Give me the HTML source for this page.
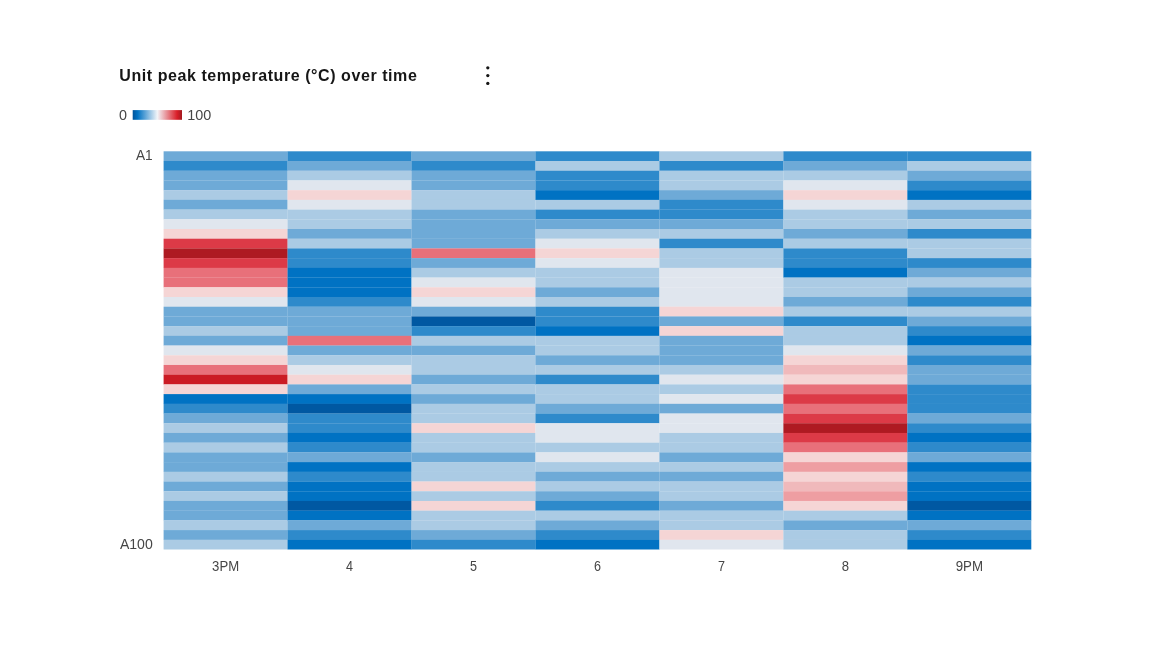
<!DOCTYPE html>
<html><head><meta charset="utf-8"><title>Unit peak temperature</title>
<style>
html,body{margin:0;padding:0;background:#fff;}
body{width:1152px;height:648px;overflow:hidden;font-family:"Liberation Sans",sans-serif;}
svg{display:block;}
.title{font:bold 16px "Liberation Sans",sans-serif;fill:#161616;}
.ax text,.lg text{font:14.4px "Liberation Sans",sans-serif;fill:#464646;}
</style></head><body>
<svg width="1152" height="648" viewBox="0 0 1152 648">
<defs><linearGradient id="lg" x1="0" x2="1" y1="0" y2="0">
<stop offset="0" stop-color="#00539a"/><stop offset="0.1" stop-color="#0072c3"/><stop offset="0.5" stop-color="#f2f4f8"/><stop offset="0.9" stop-color="#da1e28"/><stop offset="1" stop-color="#a2191f"/>
</linearGradient></defs>
<text class="title" x="119.3" y="80.5" textLength="297.5" lengthAdjust="spacing">Unit peak temperature (°C) over time</text>
<g fill="#161616"><circle cx="487.8" cy="67.8" r="1.65"/><circle cx="487.8" cy="75.6" r="1.65"/><circle cx="487.8" cy="83.4" r="1.65"/></g>
<g class="lg"><text x="119.00" y="120.3" textLength="8.00" lengthAdjust="spacingAndGlyphs">0</text><rect x="132.7" y="110.1" width="49.3" height="9.7" fill="url(#lg)"/><text x="187.30" y="120.3" textLength="24.00" lengthAdjust="spacingAndGlyphs">100</text></g>
<g shape-rendering="auto"><rect x="163.60" y="151.30" width="124.11" height="9.86" fill="#6eaad7"/><rect x="163.60" y="161.01" width="124.11" height="9.86" fill="#2e8acb"/><rect x="163.60" y="170.72" width="124.11" height="9.86" fill="#6eaad7"/><rect x="163.60" y="180.44" width="124.11" height="9.86" fill="#6eaad7"/><rect x="163.60" y="190.15" width="124.11" height="9.86" fill="#abcbe4"/><rect x="163.60" y="199.86" width="124.11" height="9.86" fill="#6eaad7"/><rect x="163.60" y="209.57" width="124.11" height="9.86" fill="#abcbe4"/><rect x="163.60" y="219.29" width="124.11" height="9.86" fill="#e0e6ee"/><rect x="163.60" y="229.00" width="124.11" height="9.86" fill="#f5d5d5"/><rect x="163.60" y="238.71" width="124.11" height="9.86" fill="#dc3a47"/><rect x="163.60" y="248.42" width="124.11" height="9.86" fill="#ae1a22"/><rect x="163.60" y="258.13" width="124.11" height="9.86" fill="#dc3a47"/><rect x="163.60" y="267.85" width="124.11" height="9.86" fill="#e8707a"/><rect x="163.60" y="277.56" width="124.11" height="9.86" fill="#e8707a"/><rect x="163.60" y="287.27" width="124.11" height="9.86" fill="#f5d5d5"/><rect x="163.60" y="296.98" width="124.11" height="9.86" fill="#e0e6ee"/><rect x="163.60" y="306.70" width="124.11" height="9.86" fill="#6eaad7"/><rect x="163.60" y="316.41" width="124.11" height="9.86" fill="#6eaad7"/><rect x="163.60" y="326.12" width="124.11" height="9.86" fill="#abcbe4"/><rect x="163.60" y="335.83" width="124.11" height="9.86" fill="#6eaad7"/><rect x="163.60" y="345.54" width="124.11" height="9.86" fill="#e0e6ee"/><rect x="163.60" y="355.26" width="124.11" height="9.86" fill="#f5d5d5"/><rect x="163.60" y="364.97" width="124.11" height="9.86" fill="#e8707a"/><rect x="163.60" y="374.68" width="124.11" height="9.86" fill="#cb1b24"/><rect x="163.60" y="384.39" width="124.11" height="9.86" fill="#f5d5d5"/><rect x="163.60" y="394.10" width="124.11" height="9.86" fill="#0072c3"/><rect x="163.60" y="403.82" width="124.11" height="9.86" fill="#2e8acb"/><rect x="163.60" y="413.53" width="124.11" height="9.86" fill="#6eaad7"/><rect x="163.60" y="423.24" width="124.11" height="9.86" fill="#abcbe4"/><rect x="163.60" y="432.95" width="124.11" height="9.86" fill="#6eaad7"/><rect x="163.60" y="442.67" width="124.11" height="9.86" fill="#abcbe4"/><rect x="163.60" y="452.38" width="124.11" height="9.86" fill="#6eaad7"/><rect x="163.60" y="462.09" width="124.11" height="9.86" fill="#6eaad7"/><rect x="163.60" y="471.80" width="124.11" height="9.86" fill="#abcbe4"/><rect x="163.60" y="481.51" width="124.11" height="9.86" fill="#6eaad7"/><rect x="163.60" y="491.23" width="124.11" height="9.86" fill="#abcbe4"/><rect x="163.60" y="500.94" width="124.11" height="9.86" fill="#6eaad7"/><rect x="163.60" y="510.65" width="124.11" height="9.86" fill="#6eaad7"/><rect x="163.60" y="520.36" width="124.11" height="9.86" fill="#abcbe4"/><rect x="163.60" y="530.08" width="124.11" height="9.86" fill="#6eaad7"/><rect x="163.60" y="539.79" width="124.11" height="9.71" fill="#abcbe4"/><rect x="287.56" y="151.30" width="124.11" height="9.86" fill="#2e8acb"/><rect x="287.56" y="161.01" width="124.11" height="9.86" fill="#6eaad7"/><rect x="287.56" y="170.72" width="124.11" height="9.86" fill="#abcbe4"/><rect x="287.56" y="180.44" width="124.11" height="9.86" fill="#e0e6ee"/><rect x="287.56" y="190.15" width="124.11" height="9.86" fill="#f5d5d5"/><rect x="287.56" y="199.86" width="124.11" height="9.86" fill="#e0e6ee"/><rect x="287.56" y="209.57" width="124.11" height="9.86" fill="#abcbe4"/><rect x="287.56" y="219.29" width="124.11" height="9.86" fill="#abcbe4"/><rect x="287.56" y="229.00" width="124.11" height="9.86" fill="#6eaad7"/><rect x="287.56" y="238.71" width="124.11" height="9.86" fill="#abcbe4"/><rect x="287.56" y="248.42" width="124.11" height="9.86" fill="#2e8acb"/><rect x="287.56" y="258.13" width="124.11" height="9.86" fill="#2e8acb"/><rect x="287.56" y="267.85" width="124.11" height="9.86" fill="#0072c3"/><rect x="287.56" y="277.56" width="124.11" height="9.86" fill="#0072c3"/><rect x="287.56" y="287.27" width="124.11" height="9.86" fill="#0072c3"/><rect x="287.56" y="296.98" width="124.11" height="9.86" fill="#2e8acb"/><rect x="287.56" y="306.70" width="124.11" height="9.86" fill="#6eaad7"/><rect x="287.56" y="316.41" width="124.11" height="9.86" fill="#6eaad7"/><rect x="287.56" y="326.12" width="124.11" height="9.86" fill="#6eaad7"/><rect x="287.56" y="335.83" width="124.11" height="9.86" fill="#e8707a"/><rect x="287.56" y="345.54" width="124.11" height="9.86" fill="#6eaad7"/><rect x="287.56" y="355.26" width="124.11" height="9.86" fill="#abcbe4"/><rect x="287.56" y="364.97" width="124.11" height="9.86" fill="#e0e6ee"/><rect x="287.56" y="374.68" width="124.11" height="9.86" fill="#f5d5d5"/><rect x="287.56" y="384.39" width="124.11" height="9.86" fill="#6eaad7"/><rect x="287.56" y="394.10" width="124.11" height="9.86" fill="#0072c3"/><rect x="287.56" y="403.82" width="124.11" height="9.86" fill="#0058a2"/><rect x="287.56" y="413.53" width="124.11" height="9.86" fill="#2e8acb"/><rect x="287.56" y="423.24" width="124.11" height="9.86" fill="#2e8acb"/><rect x="287.56" y="432.95" width="124.11" height="9.86" fill="#0072c3"/><rect x="287.56" y="442.67" width="124.11" height="9.86" fill="#2e8acb"/><rect x="287.56" y="452.38" width="124.11" height="9.86" fill="#6eaad7"/><rect x="287.56" y="462.09" width="124.11" height="9.86" fill="#0072c3"/><rect x="287.56" y="471.80" width="124.11" height="9.86" fill="#2e8acb"/><rect x="287.56" y="481.51" width="124.11" height="9.86" fill="#0072c3"/><rect x="287.56" y="491.23" width="124.11" height="9.86" fill="#0072c3"/><rect x="287.56" y="500.94" width="124.11" height="9.86" fill="#0058a2"/><rect x="287.56" y="510.65" width="124.11" height="9.86" fill="#0072c3"/><rect x="287.56" y="520.36" width="124.11" height="9.86" fill="#6eaad7"/><rect x="287.56" y="530.08" width="124.11" height="9.86" fill="#2e8acb"/><rect x="287.56" y="539.79" width="124.11" height="9.71" fill="#0072c3"/><rect x="411.51" y="151.30" width="124.11" height="9.86" fill="#6eaad7"/><rect x="411.51" y="161.01" width="124.11" height="9.86" fill="#2e8acb"/><rect x="411.51" y="170.72" width="124.11" height="9.86" fill="#6eaad7"/><rect x="411.51" y="180.44" width="124.11" height="9.86" fill="#6eaad7"/><rect x="411.51" y="190.15" width="124.11" height="9.86" fill="#abcbe4"/><rect x="411.51" y="199.86" width="124.11" height="9.86" fill="#abcbe4"/><rect x="411.51" y="209.57" width="124.11" height="9.86" fill="#6eaad7"/><rect x="411.51" y="219.29" width="124.11" height="9.86" fill="#6eaad7"/><rect x="411.51" y="229.00" width="124.11" height="9.86" fill="#6eaad7"/><rect x="411.51" y="238.71" width="124.11" height="9.86" fill="#6eaad7"/><rect x="411.51" y="248.42" width="124.11" height="9.86" fill="#e8707a"/><rect x="411.51" y="258.13" width="124.11" height="9.86" fill="#6eaad7"/><rect x="411.51" y="267.85" width="124.11" height="9.86" fill="#abcbe4"/><rect x="411.51" y="277.56" width="124.11" height="9.86" fill="#e0e6ee"/><rect x="411.51" y="287.27" width="124.11" height="9.86" fill="#f5d5d5"/><rect x="411.51" y="296.98" width="124.11" height="9.86" fill="#e0e6ee"/><rect x="411.51" y="306.70" width="124.11" height="9.86" fill="#6eaad7"/><rect x="411.51" y="316.41" width="124.11" height="9.86" fill="#0058a2"/><rect x="411.51" y="326.12" width="124.11" height="9.86" fill="#2e8acb"/><rect x="411.51" y="335.83" width="124.11" height="9.86" fill="#abcbe4"/><rect x="411.51" y="345.54" width="124.11" height="9.86" fill="#6eaad7"/><rect x="411.51" y="355.26" width="124.11" height="9.86" fill="#abcbe4"/><rect x="411.51" y="364.97" width="124.11" height="9.86" fill="#abcbe4"/><rect x="411.51" y="374.68" width="124.11" height="9.86" fill="#6eaad7"/><rect x="411.51" y="384.39" width="124.11" height="9.86" fill="#abcbe4"/><rect x="411.51" y="394.10" width="124.11" height="9.86" fill="#6eaad7"/><rect x="411.51" y="403.82" width="124.11" height="9.86" fill="#abcbe4"/><rect x="411.51" y="413.53" width="124.11" height="9.86" fill="#abcbe4"/><rect x="411.51" y="423.24" width="124.11" height="9.86" fill="#f5d5d5"/><rect x="411.51" y="432.95" width="124.11" height="9.86" fill="#abcbe4"/><rect x="411.51" y="442.67" width="124.11" height="9.86" fill="#abcbe4"/><rect x="411.51" y="452.38" width="124.11" height="9.86" fill="#6eaad7"/><rect x="411.51" y="462.09" width="124.11" height="9.86" fill="#abcbe4"/><rect x="411.51" y="471.80" width="124.11" height="9.86" fill="#abcbe4"/><rect x="411.51" y="481.51" width="124.11" height="9.86" fill="#f5d5d5"/><rect x="411.51" y="491.23" width="124.11" height="9.86" fill="#abcbe4"/><rect x="411.51" y="500.94" width="124.11" height="9.86" fill="#f5d5d5"/><rect x="411.51" y="510.65" width="124.11" height="9.86" fill="#abcbe4"/><rect x="411.51" y="520.36" width="124.11" height="9.86" fill="#abcbe4"/><rect x="411.51" y="530.08" width="124.11" height="9.86" fill="#6eaad7"/><rect x="411.51" y="539.79" width="124.11" height="9.71" fill="#2e8acb"/><rect x="535.47" y="151.30" width="124.11" height="9.86" fill="#2e8acb"/><rect x="535.47" y="161.01" width="124.11" height="9.86" fill="#abcbe4"/><rect x="535.47" y="170.72" width="124.11" height="9.86" fill="#2e8acb"/><rect x="535.47" y="180.44" width="124.11" height="9.86" fill="#2e8acb"/><rect x="535.47" y="190.15" width="124.11" height="9.86" fill="#0072c3"/><rect x="535.47" y="199.86" width="124.11" height="9.86" fill="#abcbe4"/><rect x="535.47" y="209.57" width="124.11" height="9.86" fill="#2e8acb"/><rect x="535.47" y="219.29" width="124.11" height="9.86" fill="#6eaad7"/><rect x="535.47" y="229.00" width="124.11" height="9.86" fill="#abcbe4"/><rect x="535.47" y="238.71" width="124.11" height="9.86" fill="#e0e6ee"/><rect x="535.47" y="248.42" width="124.11" height="9.86" fill="#f5d5d5"/><rect x="535.47" y="258.13" width="124.11" height="9.86" fill="#e0e6ee"/><rect x="535.47" y="267.85" width="124.11" height="9.86" fill="#abcbe4"/><rect x="535.47" y="277.56" width="124.11" height="9.86" fill="#abcbe4"/><rect x="535.47" y="287.27" width="124.11" height="9.86" fill="#6eaad7"/><rect x="535.47" y="296.98" width="124.11" height="9.86" fill="#abcbe4"/><rect x="535.47" y="306.70" width="124.11" height="9.86" fill="#2e8acb"/><rect x="535.47" y="316.41" width="124.11" height="9.86" fill="#2e8acb"/><rect x="535.47" y="326.12" width="124.11" height="9.86" fill="#0072c3"/><rect x="535.47" y="335.83" width="124.11" height="9.86" fill="#abcbe4"/><rect x="535.47" y="345.54" width="124.11" height="9.86" fill="#abcbe4"/><rect x="535.47" y="355.26" width="124.11" height="9.86" fill="#6eaad7"/><rect x="535.47" y="364.97" width="124.11" height="9.86" fill="#abcbe4"/><rect x="535.47" y="374.68" width="124.11" height="9.86" fill="#2e8acb"/><rect x="535.47" y="384.39" width="124.11" height="9.86" fill="#abcbe4"/><rect x="535.47" y="394.10" width="124.11" height="9.86" fill="#abcbe4"/><rect x="535.47" y="403.82" width="124.11" height="9.86" fill="#6eaad7"/><rect x="535.47" y="413.53" width="124.11" height="9.86" fill="#2e8acb"/><rect x="535.47" y="423.24" width="124.11" height="9.86" fill="#e0e6ee"/><rect x="535.47" y="432.95" width="124.11" height="9.86" fill="#e0e6ee"/><rect x="535.47" y="442.67" width="124.11" height="9.86" fill="#abcbe4"/><rect x="535.47" y="452.38" width="124.11" height="9.86" fill="#e0e6ee"/><rect x="535.47" y="462.09" width="124.11" height="9.86" fill="#abcbe4"/><rect x="535.47" y="471.80" width="124.11" height="9.86" fill="#6eaad7"/><rect x="535.47" y="481.51" width="124.11" height="9.86" fill="#abcbe4"/><rect x="535.47" y="491.23" width="124.11" height="9.86" fill="#6eaad7"/><rect x="535.47" y="500.94" width="124.11" height="9.86" fill="#2e8acb"/><rect x="535.47" y="510.65" width="124.11" height="9.86" fill="#abcbe4"/><rect x="535.47" y="520.36" width="124.11" height="9.86" fill="#6eaad7"/><rect x="535.47" y="530.08" width="124.11" height="9.86" fill="#2e8acb"/><rect x="535.47" y="539.79" width="124.11" height="9.71" fill="#0072c3"/><rect x="659.43" y="151.30" width="124.11" height="9.86" fill="#abcbe4"/><rect x="659.43" y="161.01" width="124.11" height="9.86" fill="#2e8acb"/><rect x="659.43" y="170.72" width="124.11" height="9.86" fill="#abcbe4"/><rect x="659.43" y="180.44" width="124.11" height="9.86" fill="#abcbe4"/><rect x="659.43" y="190.15" width="124.11" height="9.86" fill="#6eaad7"/><rect x="659.43" y="199.86" width="124.11" height="9.86" fill="#2e8acb"/><rect x="659.43" y="209.57" width="124.11" height="9.86" fill="#2e8acb"/><rect x="659.43" y="219.29" width="124.11" height="9.86" fill="#6eaad7"/><rect x="659.43" y="229.00" width="124.11" height="9.86" fill="#abcbe4"/><rect x="659.43" y="238.71" width="124.11" height="9.86" fill="#2e8acb"/><rect x="659.43" y="248.42" width="124.11" height="9.86" fill="#abcbe4"/><rect x="659.43" y="258.13" width="124.11" height="9.86" fill="#abcbe4"/><rect x="659.43" y="267.85" width="124.11" height="9.86" fill="#e0e6ee"/><rect x="659.43" y="277.56" width="124.11" height="9.86" fill="#e0e6ee"/><rect x="659.43" y="287.27" width="124.11" height="9.86" fill="#e0e6ee"/><rect x="659.43" y="296.98" width="124.11" height="9.86" fill="#e0e6ee"/><rect x="659.43" y="306.70" width="124.11" height="9.86" fill="#f5d5d5"/><rect x="659.43" y="316.41" width="124.11" height="9.86" fill="#6eaad7"/><rect x="659.43" y="326.12" width="124.11" height="9.86" fill="#f5d5d5"/><rect x="659.43" y="335.83" width="124.11" height="9.86" fill="#6eaad7"/><rect x="659.43" y="345.54" width="124.11" height="9.86" fill="#6eaad7"/><rect x="659.43" y="355.26" width="124.11" height="9.86" fill="#6eaad7"/><rect x="659.43" y="364.97" width="124.11" height="9.86" fill="#abcbe4"/><rect x="659.43" y="374.68" width="124.11" height="9.86" fill="#e0e6ee"/><rect x="659.43" y="384.39" width="124.11" height="9.86" fill="#abcbe4"/><rect x="659.43" y="394.10" width="124.11" height="9.86" fill="#e0e6ee"/><rect x="659.43" y="403.82" width="124.11" height="9.86" fill="#6eaad7"/><rect x="659.43" y="413.53" width="124.11" height="9.86" fill="#e0e6ee"/><rect x="659.43" y="423.24" width="124.11" height="9.86" fill="#e0e6ee"/><rect x="659.43" y="432.95" width="124.11" height="9.86" fill="#abcbe4"/><rect x="659.43" y="442.67" width="124.11" height="9.86" fill="#abcbe4"/><rect x="659.43" y="452.38" width="124.11" height="9.86" fill="#6eaad7"/><rect x="659.43" y="462.09" width="124.11" height="9.86" fill="#abcbe4"/><rect x="659.43" y="471.80" width="124.11" height="9.86" fill="#6eaad7"/><rect x="659.43" y="481.51" width="124.11" height="9.86" fill="#abcbe4"/><rect x="659.43" y="491.23" width="124.11" height="9.86" fill="#abcbe4"/><rect x="659.43" y="500.94" width="124.11" height="9.86" fill="#6eaad7"/><rect x="659.43" y="510.65" width="124.11" height="9.86" fill="#abcbe4"/><rect x="659.43" y="520.36" width="124.11" height="9.86" fill="#abcbe4"/><rect x="659.43" y="530.08" width="124.11" height="9.86" fill="#f5d5d5"/><rect x="659.43" y="539.79" width="124.11" height="9.71" fill="#e0e6ee"/><rect x="783.39" y="151.30" width="124.11" height="9.86" fill="#2e8acb"/><rect x="783.39" y="161.01" width="124.11" height="9.86" fill="#6eaad7"/><rect x="783.39" y="170.72" width="124.11" height="9.86" fill="#abcbe4"/><rect x="783.39" y="180.44" width="124.11" height="9.86" fill="#e0e6ee"/><rect x="783.39" y="190.15" width="124.11" height="9.86" fill="#f5d5d5"/><rect x="783.39" y="199.86" width="124.11" height="9.86" fill="#e0e6ee"/><rect x="783.39" y="209.57" width="124.11" height="9.86" fill="#abcbe4"/><rect x="783.39" y="219.29" width="124.11" height="9.86" fill="#abcbe4"/><rect x="783.39" y="229.00" width="124.11" height="9.86" fill="#6eaad7"/><rect x="783.39" y="238.71" width="124.11" height="9.86" fill="#abcbe4"/><rect x="783.39" y="248.42" width="124.11" height="9.86" fill="#2e8acb"/><rect x="783.39" y="258.13" width="124.11" height="9.86" fill="#2e8acb"/><rect x="783.39" y="267.85" width="124.11" height="9.86" fill="#0072c3"/><rect x="783.39" y="277.56" width="124.11" height="9.86" fill="#abcbe4"/><rect x="783.39" y="287.27" width="124.11" height="9.86" fill="#abcbe4"/><rect x="783.39" y="296.98" width="124.11" height="9.86" fill="#6eaad7"/><rect x="783.39" y="306.70" width="124.11" height="9.86" fill="#abcbe4"/><rect x="783.39" y="316.41" width="124.11" height="9.86" fill="#2e8acb"/><rect x="783.39" y="326.12" width="124.11" height="9.86" fill="#abcbe4"/><rect x="783.39" y="335.83" width="124.11" height="9.86" fill="#abcbe4"/><rect x="783.39" y="345.54" width="124.11" height="9.86" fill="#e0e6ee"/><rect x="783.39" y="355.26" width="124.11" height="9.86" fill="#f5d5d5"/><rect x="783.39" y="364.97" width="124.11" height="9.86" fill="#f0b9bb"/><rect x="783.39" y="374.68" width="124.11" height="9.86" fill="#f5d5d5"/><rect x="783.39" y="384.39" width="124.11" height="9.86" fill="#e8707a"/><rect x="783.39" y="394.10" width="124.11" height="9.86" fill="#dc3a47"/><rect x="783.39" y="403.82" width="124.11" height="9.86" fill="#e8707a"/><rect x="783.39" y="413.53" width="124.11" height="9.86" fill="#dc3a47"/><rect x="783.39" y="423.24" width="124.11" height="9.86" fill="#ae1a22"/><rect x="783.39" y="432.95" width="124.11" height="9.86" fill="#dc3a47"/><rect x="783.39" y="442.67" width="124.11" height="9.86" fill="#e8707a"/><rect x="783.39" y="452.38" width="124.11" height="9.86" fill="#f5d5d5"/><rect x="783.39" y="462.09" width="124.11" height="9.86" fill="#ee9ea2"/><rect x="783.39" y="471.80" width="124.11" height="9.86" fill="#f5d5d5"/><rect x="783.39" y="481.51" width="124.11" height="9.86" fill="#f0b9bb"/><rect x="783.39" y="491.23" width="124.11" height="9.86" fill="#ee9ea2"/><rect x="783.39" y="500.94" width="124.11" height="9.86" fill="#f5d5d5"/><rect x="783.39" y="510.65" width="124.11" height="9.86" fill="#abcbe4"/><rect x="783.39" y="520.36" width="124.11" height="9.86" fill="#6eaad7"/><rect x="783.39" y="530.08" width="124.11" height="9.86" fill="#abcbe4"/><rect x="783.39" y="539.79" width="124.11" height="9.71" fill="#abcbe4"/><rect x="907.34" y="151.30" width="123.96" height="9.86" fill="#2e8acb"/><rect x="907.34" y="161.01" width="123.96" height="9.86" fill="#abcbe4"/><rect x="907.34" y="170.72" width="123.96" height="9.86" fill="#6eaad7"/><rect x="907.34" y="180.44" width="123.96" height="9.86" fill="#2e8acb"/><rect x="907.34" y="190.15" width="123.96" height="9.86" fill="#0072c3"/><rect x="907.34" y="199.86" width="123.96" height="9.86" fill="#abcbe4"/><rect x="907.34" y="209.57" width="123.96" height="9.86" fill="#6eaad7"/><rect x="907.34" y="219.29" width="123.96" height="9.86" fill="#abcbe4"/><rect x="907.34" y="229.00" width="123.96" height="9.86" fill="#2e8acb"/><rect x="907.34" y="238.71" width="123.96" height="9.86" fill="#abcbe4"/><rect x="907.34" y="248.42" width="123.96" height="9.86" fill="#abcbe4"/><rect x="907.34" y="258.13" width="123.96" height="9.86" fill="#2e8acb"/><rect x="907.34" y="267.85" width="123.96" height="9.86" fill="#6eaad7"/><rect x="907.34" y="277.56" width="123.96" height="9.86" fill="#abcbe4"/><rect x="907.34" y="287.27" width="123.96" height="9.86" fill="#6eaad7"/><rect x="907.34" y="296.98" width="123.96" height="9.86" fill="#2e8acb"/><rect x="907.34" y="306.70" width="123.96" height="9.86" fill="#abcbe4"/><rect x="907.34" y="316.41" width="123.96" height="9.86" fill="#6eaad7"/><rect x="907.34" y="326.12" width="123.96" height="9.86" fill="#2e8acb"/><rect x="907.34" y="335.83" width="123.96" height="9.86" fill="#0072c3"/><rect x="907.34" y="345.54" width="123.96" height="9.86" fill="#6eaad7"/><rect x="907.34" y="355.26" width="123.96" height="9.86" fill="#2e8acb"/><rect x="907.34" y="364.97" width="123.96" height="9.86" fill="#6eaad7"/><rect x="907.34" y="374.68" width="123.96" height="9.86" fill="#6eaad7"/><rect x="907.34" y="384.39" width="123.96" height="9.86" fill="#2e8acb"/><rect x="907.34" y="394.10" width="123.96" height="9.86" fill="#2e8acb"/><rect x="907.34" y="403.82" width="123.96" height="9.86" fill="#2e8acb"/><rect x="907.34" y="413.53" width="123.96" height="9.86" fill="#6eaad7"/><rect x="907.34" y="423.24" width="123.96" height="9.86" fill="#2e8acb"/><rect x="907.34" y="432.95" width="123.96" height="9.86" fill="#0072c3"/><rect x="907.34" y="442.67" width="123.96" height="9.86" fill="#2e8acb"/><rect x="907.34" y="452.38" width="123.96" height="9.86" fill="#6eaad7"/><rect x="907.34" y="462.09" width="123.96" height="9.86" fill="#0072c3"/><rect x="907.34" y="471.80" width="123.96" height="9.86" fill="#2e8acb"/><rect x="907.34" y="481.51" width="123.96" height="9.86" fill="#0072c3"/><rect x="907.34" y="491.23" width="123.96" height="9.86" fill="#0072c3"/><rect x="907.34" y="500.94" width="123.96" height="9.86" fill="#0058a2"/><rect x="907.34" y="510.65" width="123.96" height="9.86" fill="#0072c3"/><rect x="907.34" y="520.36" width="123.96" height="9.86" fill="#6eaad7"/><rect x="907.34" y="530.08" width="123.96" height="9.86" fill="#2e8acb"/><rect x="907.34" y="539.79" width="123.96" height="9.71" fill="#0072c3"/></g>
<g class="ax"><text x="135.90" y="159.9" textLength="16.70" lengthAdjust="spacingAndGlyphs">A1</text><text x="119.90" y="548.8" textLength="32.90" lengthAdjust="spacingAndGlyphs">A100</text><text x="212.08" y="570.8" textLength="27.00" lengthAdjust="spacingAndGlyphs">3PM</text><text x="346.04" y="570.8" textLength="7.00" lengthAdjust="spacingAndGlyphs">4</text><text x="469.99" y="570.8" textLength="7.00" lengthAdjust="spacingAndGlyphs">5</text><text x="593.95" y="570.8" textLength="7.00" lengthAdjust="spacingAndGlyphs">6</text><text x="717.91" y="570.8" textLength="7.00" lengthAdjust="spacingAndGlyphs">7</text><text x="841.71" y="570.8" textLength="7.30" lengthAdjust="spacingAndGlyphs">8</text><text x="955.67" y="570.8" textLength="27.30" lengthAdjust="spacingAndGlyphs">9PM</text></g>
</svg>
</body></html>
